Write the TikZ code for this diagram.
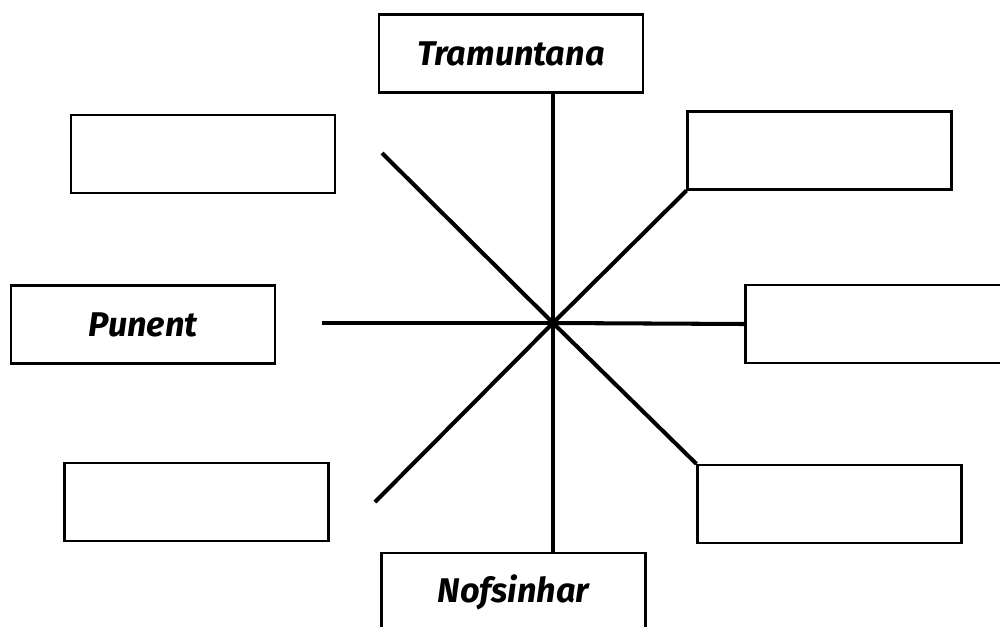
\documentclass[tikz,border=0pt]{standalone}
\usepackage{fontspec}
\setmainfont{Fira Sans}
\usepackage{tikz}
\usetikzlibrary{calc}
\tikzset{
	windbox/.style={rectangle, draw=black, line width=1.2pt, fill=white, minimum width=5.28cm, minimum height=1.56cm, inner sep=0pt, font=\fontsize{19.5}{22}\selectfont\bfseries\itshape},
	spoke/.style={line width=2.3pt}
}
\begin{document}
\begin{tikzpicture}
			\clip (0,0) rectangle (20,-12.52);
			\coordinate (C) at (11.06,-6.46);
			
			\node[windbox] (tram) at (10.22,-1.07) {Tramuntana};
			\node[windbox] (nw) at (4.06,-3.08) {};
			\node[windbox] (ne) at (16.39,-3.01) {};
			\node[windbox] (punent) at (2.86,-6.49) {Punent};
			\node[windbox] (east) at (17.55,-6.48) {};
			\node[windbox] (sw) at (3.93,-10.04) {};
			\node[windbox] (se) at (16.59,-10.08) {};
			\node[windbox] (nof) at (10.27,-11.84) {Nofsinhar};
			
			\coordinate (wend) at (6.44,-6.46);
			\coordinate (nwend) at (7.64,-3.06);
			\coordinate (swend) at (7.50,-10.04);
			
			\draw[spoke] (C) -- (C |- tram.south);
			\draw[spoke] (C) -- (C |- nof.north);
			\draw[spoke] (C) -- (wend);
			\draw[spoke] (C) -- (east.west);
			\draw[spoke] (C) -- (nwend);
			\draw[spoke] (C) -- (ne.south west);
			\draw[spoke] (C) -- (swend);
			\draw[spoke] (C) -- (se.north west);
		\end{tikzpicture}
\end{document}
